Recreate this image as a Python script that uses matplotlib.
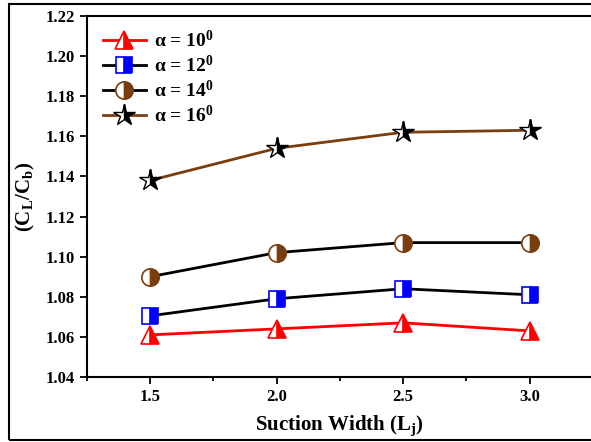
import matplotlib.pyplot as plt
from matplotlib.patches import Rectangle
from matplotlib.ticker import MultipleLocator

plt.rcParams['font.family'] = ['Liberation Serif', 'DejaVu Serif']
plt.rcParams['font.weight'] = 'bold'
plt.rcParams['mathtext.fontset'] = 'custom'
plt.rcParams['mathtext.rm'] = 'Liberation Serif:bold'
plt.rcParams['mathtext.it'] = 'Liberation Serif:bold'
plt.rcParams['mathtext.bf'] = 'Liberation Serif:bold'

widths = [1.5, 2.0, 2.5, 3.0]
a10 = [1.061, 1.064, 1.067, 1.063]
a12 = [1.0705, 1.079, 1.084, 1.081]
a14 = [1.090, 1.102, 1.107, 1.107]
a16 = [1.138, 1.154, 1.162, 1.163]
labels = [r'$\mathbf{\alpha}$ = 10$^{0}$', r'$\mathbf{\alpha}$ = 12$^{0}$',
          r'$\mathbf{\alpha}$ = 14$^{0}$', r'$\mathbf{\alpha}$ = 16$^{0}$']

brown = '#7a3e0e'

fig = plt.figure(figsize=(5.91, 4.42), dpi=100)
ax = fig.add_axes([0.147, 0.147, 0.856, 0.817])

# outer frame round the figure (right side is cut off in the original)
fig.patches.append(Rectangle((0.015, 0.005), 1.1, 0.985, transform=fig.transFigure,
                             fill=False, edgecolor='black', lw=1.5))

ax.plot(widths, a10, color='red', lw=2, marker='^', ms=13, fillstyle='right',
        markerfacecolor='red', markerfacecoloralt='white', markeredgecolor='red',
        markeredgewidth=1.2, label=labels[0])
ax.plot(widths, a12, color='black', lw=2, marker='s', ms=11, fillstyle='right',
        markerfacecolor='blue', markerfacecoloralt='white', markeredgecolor='blue',
        markeredgewidth=1.2, label=labels[1])
ax.plot(widths, a14, color='black', lw=2, marker='o', ms=12.5, fillstyle='right',
        markerfacecolor=brown, markerfacecoloralt='white', markeredgecolor=brown,
        markeredgewidth=1.2, label=labels[2])
ax.plot(widths, a16, color=brown, lw=2, marker='*', ms=16, fillstyle='right',
        markerfacecolor='black', markerfacecoloralt='white', markeredgecolor='black',
        markeredgewidth=1.0, label=labels[3])

ax.set_xlim(1.25, 3.25)
ax.set_ylim(1.04, 1.22)
ax.xaxis.set_minor_locator(MultipleLocator(0.25))
ax.yaxis.set_major_locator(MultipleLocator(0.02))
ax.set_xticks([1.5, 2.0, 2.5, 3.0])
ax.set_xticklabels(['1.5', '2.0', '2.5', '3.0'])
ax.yaxis.set_major_formatter(plt.FormatStrFormatter('%.2f'))

ax.tick_params(axis='both', which='major', direction='out', length=5, width=1.3,
               labelsize=12)
ax.tick_params(axis='x', which='minor', direction='out', length=3, width=1.3)
for s in ax.spines.values():
    s.set_linewidth(1.5)
ax.spines['right'].set_visible(False)

ax.set_xlabel(r'Suction Width (L$_{\mathrm{j}}$)', fontsize=15, fontweight='bold',
              labelpad=6)
ax.set_ylabel(r'(C$_{\mathrm{L}}$/C$_{\mathrm{b}}$)', fontsize=15, fontweight='bold',
              labelpad=6)

ax.legend(loc='upper left', frameon=False, fontsize=14, handlelength=2.2,
          handletextpad=0.4, borderaxespad=0.3, labelspacing=0.2,
          bbox_to_anchor=(0.005, 1.0))

fig.savefig('out.png', dpi=100)
